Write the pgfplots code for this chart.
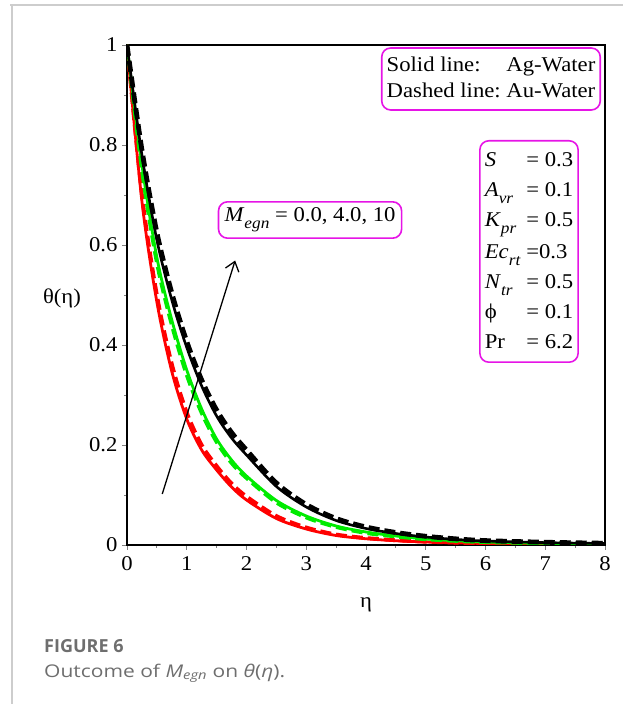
\documentclass[border=0pt]{standalone}
\usepackage{fontspec}
\setmainfont{Liberation Serif}[FakeStretch=1.08]
\newfontfamily\capfont{Open Sans}
\newfontfamily\capfontw{Open Sans}[FakeStretch=1.2]
\usepackage{pgfplots}
\usepackage{pgfplotstable}
\pgfplotsset{compat=1.18}
\usetikzlibrary{arrows.meta}
\definecolor{mag}{RGB}{230,20,230}
\definecolor{grn}{RGB}{0,235,0}
\definecolor{capgray}{RGB}{110,110,110}
\definecolor{framegray}{RGB}{205,205,205}
\newcommand\sub[1]{\raisebox{-7pt}{\fontsize{16}{16}\selectfont\textit{#1}}}

\pgfplotstableread{
eta  rs     rd     gs     gd     bs     bd
0    1      1      1      1      1      1
0.25 0.687  0.700  0.760  0.750  0.780  0.790
0.5  0.486  0.500  0.575  0.565  0.610  0.625
0.75 0.347  0.362  0.450  0.440  0.490  0.504
1    0.252  0.265  0.350  0.340  0.395  0.407
1.25 0.190  0.200  0.272  0.264  0.318  0.330
1.5  0.150  0.158  0.212  0.206  0.258  0.270
1.75 0.116  0.123  0.170  0.164  0.214  0.225
2    0.090  0.097  0.138  0.134  0.180  0.190
2.5  0.053  0.058  0.089  0.085  0.117  0.124
3    0.032  0.035  0.058  0.055  0.076  0.081
3.5  0.019  0.021  0.038  0.036  0.049  0.053
4    0.0125 0.014  0.026  0.024  0.033  0.036
4.5  0.0085 0.0095 0.018  0.017  0.023  0.025
5    0.006  0.0066 0.012  0.0115 0.016  0.0175
5.5  0.0042 0.0047 0.0086 0.0082 0.0112 0.0123
6    0.003  0.0034 0.006  0.0058 0.008  0.0088
7    0.0016 0.0018 0.0033 0.0032 0.0048 0.0055
8    0.0008 0.0009 0.0018 0.0017 0.003  0.0035
}\datatable

\begin{document}
\begin{tikzpicture}
\path[use as bounding box] (0,0) rectangle (623pt,704pt);
\draw[framegray, line width=1.2pt] (10pt,699pt) -- (623pt,699pt);
\draw[framegray, line width=1.2pt] (12pt,699pt) -- (12pt,0pt);
\begin{axis}[
  at={(127pt,159pt)}, anchor=south west,
  scale only axis, width=478pt, height=500pt,
  xmin=0, xmax=8, ymin=0, ymax=1,
  xtick={0,1,...,8}, ytick={0,0.2,0.4,0.6,0.8,1},
  minor x tick num=1, minor y tick num=1,
  tick align=outside, tick pos=left,
  major tick length=5pt, minor tick length=3pt,
  every tick/.style={gray, line width=0.8pt},
  axis line style={line width=1.3pt},
  tick label style={font=\fontsize{21}{24}\selectfont},
  xticklabel style={yshift=-3pt},
  yticklabel style={xshift=-1pt},
  /pgf/number format/assume math mode=true,
  xlabel={η}, ylabel={θ(η)},
  xlabel style={font=\fontsize{21}{24}\selectfont, at={(axis description cs:0.5,-0.12)}, anchor=center},
  ylabel style={font=\fontsize{21}{24}\selectfont, rotate=-90, at={(axis description cs:-0.136,0.494)}, anchor=center},
]
\addplot[red, line width=2.8pt, smooth] table[x=eta, y=rs] {\datatable};
\addplot[red, line width=3.8pt, smooth, dash pattern=on 11pt off 5pt] table[x=eta, y=rd] {\datatable};
\addplot[grn, line width=2.8pt, smooth] table[x=eta, y=gs] {\datatable};
\addplot[grn, line width=3.8pt, smooth, dash pattern=on 11pt off 5pt] table[x=eta, y=gd] {\datatable};
\addplot[black, line width=2.6pt, smooth] table[x=eta, y=bs] {\datatable};
\addplot[black, line width=4.8pt, smooth, dash pattern=on 11pt off 5pt] table[x=eta, y=bd] {\datatable};

\draw[-{Straight Barb[length=9pt,width=14pt]}, line width=1.3pt] (axis cs:0.59,0.102) -- (axis cs:1.81,0.569);

\node[draw=mag, line width=1.6pt, rounded corners=9pt, fill=white, inner sep=5pt, font=\fontsize{21}{26}\selectfont]
  at (axis description cs:0.7615,0.932)
  {\begin{tabular}{@{}l@{\ }r@{}}Solid line: & Ag-Water\\ Dashed line: & Au-Water\end{tabular}};

\node[draw=mag, line width=1.6pt, rounded corners=9pt, fill=white, inner sep=6pt, font=\fontsize{21}{24}\selectfont]
  at (axis description cs:0.383,0.65)
  {\textit{M}\sub{egn} = 0.0, 4.0, 10};

\node[draw=mag, line width=1.6pt, rounded corners=9pt, fill=white, inner sep=5pt, font=\fontsize{21}{30}\selectfont]
  at (axis description cs:0.841,0.587)
  {\begin{tabular}{@{}l@{\ }l@{}}
   \textit{S} & = 0.3\\
   \textit{A}\sub{vr} & = 0.1\\
   \textit{K}\sub{pr} & = 0.5\\
   \textit{Ec}\sub{rt} & =0.3\\
   \textit{N}\sub{tr} & = 0.5\\
   ϕ & = 0.1\\
   Pr & = 6.2
  \end{tabular}};
\end{axis}
\node[anchor=base west, inner sep=0pt, text=capgray, font=\capfont\bfseries\fontsize{18}{22}\selectfont] at (44pt,51pt) {FIGURE 6};
\node[anchor=base west, inner sep=0pt, text=capgray, font=\capfontw\fontsize{17.5}{22}\selectfont] at (44pt,27pt) {Outcome of \textit{M}\textsubscript{\textit{egn}} on \textit{θ}(\textit{η}).};
\end{tikzpicture}
\end{document}
